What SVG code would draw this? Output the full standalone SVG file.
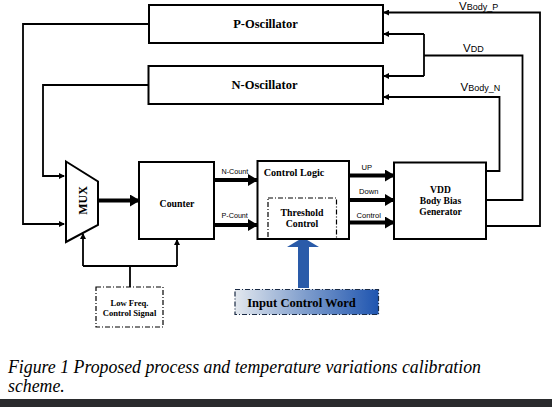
<svg xmlns="http://www.w3.org/2000/svg" width="552" height="407" viewBox="0 0 552 407">
<style>
.box{fill:#fff;stroke:#000;stroke-width:2}
.dash{fill:#fff;stroke:#000;stroke-width:1.2;stroke-dasharray:5 2 1 2}
.lbl{font-family:"Liberation Serif",serif;font-weight:bold;fill:#000;text-anchor:middle}
.sans{font-family:"Liberation Sans",Arial,sans-serif;fill:#000}
.w{fill:none;stroke:#000;stroke-width:1.8}
.thick{fill:none;stroke:#000;stroke-width:4}
</style>
<defs>
<marker id="ah" markerUnits="userSpaceOnUse" markerWidth="10" markerHeight="12" refX="9" refY="6" orient="auto">
<path d="M0,0 L10,6 L0,12 Z" fill="#000"/>
</marker>
<marker id="as" markerUnits="userSpaceOnUse" markerWidth="6" markerHeight="6" refX="5" refY="3" orient="auto">
<path d="M0,0 L6,3 L0,6 Z" fill="#000"/>
</marker>
<linearGradient id="icw" x1="0" y1="0" x2="1" y2="0">
<stop offset="0" stop-color="#e3e8ee"/>
<stop offset="0.5" stop-color="#7d9ccc"/>
<stop offset="1" stop-color="#1f55b0"/>
</linearGradient>
</defs>
<rect width="552" height="407" fill="#fff"/>

<g id="connectors">
<!-- oscillators to MUX -->
<polyline class="w" points="149,24 23,24 23,224 64,224" marker-end="url(#as)"/>
<polyline class="w" points="148,85 43,85 43,176 64,176" marker-end="url(#as)"/>
<!-- MUX to counter -->
<line class="thick" x1="98" y1="200.5" x2="139" y2="200.5" marker-end="url(#ah)"/>
<!-- counter to control logic -->
<line class="thick" x1="214" y1="180" x2="257" y2="180" marker-end="url(#ah)"/>
<line class="thick" x1="214" y1="225" x2="257" y2="225" marker-end="url(#ah)"/>
<!-- control logic to generator -->
<line class="thick" x1="349" y1="175.5" x2="394" y2="175.5" marker-end="url(#ah)"/>
<line class="thick" x1="349" y1="200" x2="394" y2="200" marker-end="url(#ah)"/>
<line class="thick" x1="349" y1="222.5" x2="394" y2="222.5" marker-end="url(#ah)"/>
<!-- generator feedback -->
<polyline class="w" points="486,171 499.5,171 499.5,97 384,97" marker-end="url(#as)"/>
<polyline class="w" points="486,200 522.5,200 522.5,55.5 424,55.5"/>
<polyline class="w" points="424,34 424,76"/>
<line class="w" x1="424" y1="34" x2="384" y2="34" marker-end="url(#as)"/>
<line class="w" x1="424" y1="76" x2="384" y2="76" marker-end="url(#as)"/>
<polyline class="w" points="486,226 540,226 540,12.5 384,12.5" marker-end="url(#as)"/>
<!-- low freq control -->
<polyline class="w" points="130,287 130,266"/>
<polyline class="w" points="83,266 177,266"/>
<line class="w" x1="83" y1="266" x2="83" y2="234" marker-end="url(#as)"/>
<line class="w" x1="177" y1="266" x2="177" y2="240" marker-end="url(#as)"/>
<!-- input control word arrow -->
<path d="M298,288 L298,247 L287,247 L303,237.5 L319,247 L309,247 L309,288 Z" fill="#2a5ba9"/>
<!-- labels -->
<text class="sans" x="221.5" y="173.5" font-size="7.2">N-Count</text>
<text class="sans" x="221.5" y="218" font-size="7.2">P-Count</text>
<text class="sans" x="361.5" y="170" font-size="7.6">UP</text>
<text class="sans" x="359" y="194" font-size="7.6">Down</text>
<text class="sans" x="356.5" y="217.5" font-size="7.6">Control</text>
<text class="sans" x="459" y="9.5" font-size="11.5">V<tspan font-size="9">Body_P</tspan></text>
<text class="sans" x="463" y="51.5" font-size="11.5">V<tspan font-size="9">DD</tspan></text>
<text class="sans" x="460.5" y="91" font-size="11.5">V<tspan font-size="9">Body_N</tspan></text>
</g>

<g id="p-oscillator">
<rect class="box" x="149" y="5" width="234" height="38"/>
<text class="lbl" x="265.5" y="27.5" font-size="12.5">P-Oscillator</text>
</g>
<g id="n-oscillator">
<rect class="box" x="148.5" y="66" width="234.5" height="38"/>
<text class="lbl" x="264.5" y="88.5" font-size="12.5">N-Oscillator</text>
</g>
<g id="mux">
<polygon class="box" points="66,161.5 98,181.5 98,225 66,242"/>
<text class="lbl" transform="translate(86.5,200.5) rotate(-90)" font-size="12">MUX</text>
</g>
<g id="counter">
<rect class="box" x="139" y="162" width="75" height="77"/>
<text class="lbl" x="177" y="207" font-size="9.8">Counter</text>
</g>
<g id="control-logic">
<rect class="box" x="257.5" y="161" width="91.5" height="78"/>
<text class="lbl" x="294" y="176" font-size="10.2">Control Logic</text>
<rect fill="none" stroke="#000" stroke-width="1.2" stroke-dasharray="5 2 1 2" x="268" y="198" width="68.5" height="41"/>
<text class="lbl" x="302" y="216" font-size="9.8">Threshold</text>
<text class="lbl" x="302" y="227" font-size="9.8">Control</text>
</g>
<g id="body-bias-generator">
<rect class="box" x="394" y="162.5" width="92" height="76.5"/>
<text class="lbl" x="440.5" y="192.5" font-size="9.6">VDD</text>
<text class="lbl" x="440.5" y="204" font-size="9.6">Body Bias</text>
<text class="lbl" x="440.5" y="215" font-size="9.6">Generator</text>
</g>
<g id="low-freq-control">
<rect class="dash" x="96" y="287" width="67" height="40"/>
<text class="lbl" x="129.5" y="305.5" font-size="8.6">Low Freq.</text>
<text class="lbl" x="129.5" y="316" font-size="8.6">Control Signal</text>
</g>
<g id="input-control-word">
<rect x="235" y="289.5" width="143.5" height="25" fill="url(#icw)" stroke="#1a2a44" stroke-width="1.2" stroke-dasharray="5 2 1 2"/>
<text class="lbl" x="301.5" y="307" font-size="12.6" fill="#0a1a33">Input Control Word</text>
</g>

<g id="caption">
<text x="8" y="372.5" font-family="'Liberation Serif',serif" font-style="italic" font-size="17.8" fill="#000">Figure 1 Proposed process and temperature variations calibration</text>
<text x="8" y="391.5" font-family="'Liberation Serif',serif" font-style="italic" font-size="17.8" fill="#000">scheme.</text>
</g>
<rect x="0" y="399" width="552" height="8" fill="#2a2b2d"/>
</svg>
